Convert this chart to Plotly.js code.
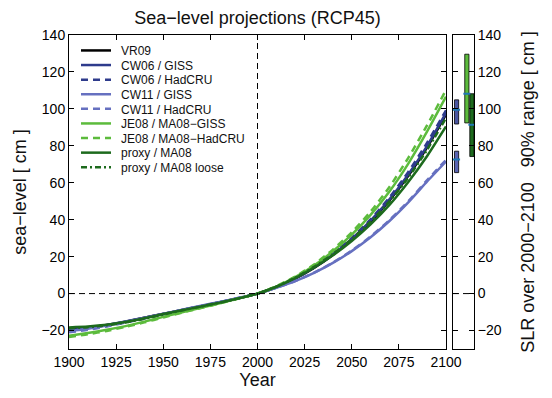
<!DOCTYPE html>
<html>
<head>
<meta charset="utf-8">
<script src="https://cdn.plot.ly/plotly-3.0.1.min.js"></script>
<style>html,body{margin:0;padding:0;background:#fff;}#chart{width:552px;height:398px;}</style>
</head>
<body>
<div id="chart"></div>
<script>
// ---------- data ----------
const years = [1900,1910,1920,1930,1940,1950,1960,1970,1980,1990,2000,2010,2020,2030,2040,2050,2060,2070,2080,2090,2100];

const vr09       = [-19.5,-18.5,-17.0,-15.2,-13.1,-11.0,-8.9,-6.8,-4.7,-2.5,0,3.4,8.1,13.9,20.9,29.2,39.0,50.4,63.8,79.2,97.0];
const cw06Giss   = [-19.8,-18.6,-17.0,-15.1,-13.0,-10.9,-8.9,-6.8,-4.7,-2.5,0,3.5,8.2,14.1,21.2,29.6,39.5,51.0,64.5,80.0,97.8];
const cw06Had    = [-20.5,-19.2,-17.5,-15.5,-13.3,-11.2,-9.0,-6.9,-4.8,-2.5,0,3.5,8.3,14.3,21.5,30.1,40.2,52.0,65.9,81.7,99.2];
const cw11Giss   = [-20.3,-19.0,-17.3,-15.3,-13.2,-11.0,-8.8,-6.6,-4.5,-2.3,0,3.1,6.7,11.2,16.6,23.0,30.5,39.3,49.4,60.7,71.5];
const cw11Had    = [-21.0,-19.6,-17.8,-15.7,-13.5,-11.2,-9.0,-6.8,-4.6,-2.4,0,3.1,6.8,11.3,16.8,23.3,30.9,39.8,50.0,61.4,72.4];
const je08Giss   = [-22.8,-21.3,-19.6,-17.6,-15.2,-12.6,-10.1,-7.7,-5.2,-2.6,0,3.8,8.9,15.2,22.9,31.9,42.6,55.3,70.4,87.8,106.6];
const je08Had    = [-23.5,-22.0,-20.2,-18.0,-15.6,-12.9,-10.3,-7.8,-5.3,-2.7,0,4.0,9.2,15.8,23.8,33.2,44.4,57.7,73.5,91.2,110.2];
const proxyMA08  = [-18.3,-17.8,-16.9,-15.4,-13.4,-11.1,-9.0,-7.0,-4.9,-2.6,0,3.7,8.4,14.1,20.7,28.5,37.5,48.0,60.4,74.5,90.5];
const proxyLoose = [-18.8,-18.2,-17.2,-15.6,-13.6,-11.3,-9.1,-7.0,-4.9,-2.6,0,3.8,8.6,14.5,21.4,29.5,38.9,49.9,62.8,77.9,95.0];

const seriesNames = ['VR09','CW06 / GISS','CW06 / HadCRU','CW11 / GISS','CW11 / HadCRU',
                     'JE08 / MA08\u2212GISS','JE08 / MA08\u2212HadCRU','proxy / MA08','proxy / MA08 loose'];

// 90% ranges of SLR over 2000-2100 (right panel)
const rangeNames = ['CW06','CW11','JE08','proxy / MA08'];
const rangeLow   = [91.8, 65.5, 92.4, 74.2];
const rangeHigh  = [104.9, 77.1, 129.6, 108.2];
const rangeMed   = [99.5, 72.6, 108.2, 91.4];

const yTicks = [-20,0,20,40,60,80,100,120,140];
const xTicks = [1900,1925,1950,1975,2000,2025,2050,2075,2100];

// ---------- styles ----------
const seriesValues = [vr09,cw06Giss,cw06Had,cw11Giss,cw11Had,je08Giss,je08Had,proxyMA08,proxyLoose];
const seriesColors = ['#000000','#2e3b8c','#2e3b8c','#6670c0','#6670c0','#5cbb3c','#5cbb3c','#1d6a1d','#1d6a1d'];
const seriesDash   = ['solid','solid','7px,5px','solid','7px,5px','solid','7px,5px','solid','6px,3px,2px,3px'];
const rangeColors  = ['#4a55a0','#5a64b2','#5cbb3c','#1d6a1d'];
const rangeSlots   = [0.17,0.17,0.66,0.9];

const FONT = 'Liberation Sans, Arial, Helvetica, sans-serif';

const traces = seriesValues.map((v,i)=>({
  type:'scatter', mode:'lines', x:years, y:v, name:seriesNames[i],
  line:{color:seriesColors[i], width:2.5, dash:seriesDash[i], shape:'spline', smoothing:0.6},
  xaxis:'x', yaxis:'y', hoverinfo:'skip'
}));

traces.push({
  type:'bar', x:rangeSlots, base:rangeLow, y:rangeHigh.map((h,i)=>h-rangeLow[i]),
  width:0.2, marker:{color:rangeColors, line:{color:'#000', width:0.8}},
  xaxis:'x2', yaxis:'y2', showlegend:false, hoverinfo:'skip', text:rangeNames, textposition:'none'
});
traces.push({
  type:'scatter', mode:'markers', x:rangeSlots, y:rangeMed,
  marker:{symbol:'line-ew-open', size:5, line:{color:'#000', width:2}},
  xaxis:'x2', yaxis:'y2', showlegend:false, hoverinfo:'skip'
});

const axisCommon = {
  showline:true, linecolor:'#000', linewidth:1, mirror:'ticks', ticks:'inside', ticklen:5,
  tickcolor:'#000', showgrid:false, zeroline:false, tickangle:0, automargin:false,
  tickfont:{family:FONT, size:14, color:'#000'}
};

const layout = {
  width:552, height:398,
  margin:{l:69, r:78, t:35, b:49},
  paper_bgcolor:'#fff', plot_bgcolor:'#fff',
  font:{family:FONT, color:'#000'},
  showlegend:true,
  title:{text:'Sea\u2212level projections (RCP45)', font:{family:FONT, size:18, color:'#111'},
         xref:'container', x:257.5/552, xanchor:'center', yref:'container', y:1-18/398, yanchor:'middle'},
  xaxis:Object.assign({}, axisCommon, {
    domain:[0, 377/405], range:[1900,2100], tickvals:xTicks, ticktext:xTicks.map(String),
    title:{text:'Year', font:{family:FONT, size:18, color:'#111'}, standoff:4}
  }),
  yaxis:Object.assign({}, axisCommon, {
    range:[-30,140], tickvals:yTicks, ticktext:yTicks.map(v=>v<0?'\u2212'+Math.abs(v):String(v)),
    title:{text:'sea\u2212level [ cm ]', font:{family:FONT, size:18, color:'#111'}, standoff:10}
  }),
  xaxis2:Object.assign({}, axisCommon, {
    domain:[384/405, 1], range:[0,1], anchor:'y2', showticklabels:false, ticks:'', mirror:true
  }),
  yaxis2:Object.assign({}, axisCommon, {
    anchor:'x2', side:'right', range:[-30,140], tickvals:yTicks,
    ticktext:yTicks.map(v=>v<0?'\u2212'+Math.abs(v):String(v)),
    title:{text:'SLR over 2000\u22122100\u00a0\u00a0 90% range [ cm ]', font:{family:FONT, size:18, color:'#111'}, standoff:20}
  }),
  shapes:[
    {type:'line', xref:'x domain', yref:'y', x0:0, x1:1, y0:0, y1:0, line:{color:'#000', width:1, dash:'6px,4px'}},
    {type:'line', xref:'x2 domain', yref:'y2', x0:0, x1:1, y0:0, y1:0, line:{color:'#000', width:1, dash:'6px,4px'}},
    {type:'line', xref:'x', yref:'y domain', x0:2000, x1:2000, y0:0, y1:1, line:{color:'#000', width:1, dash:'6px,4px'}}
  ],
  legend:{x:7/405, xanchor:'left', y:0.997, yanchor:'top',
          bgcolor:'rgba(0,0,0,0)', borderwidth:0, font:{family:FONT, size:12, color:'#111'},
          itemclick:false, itemdoubleclick:false, tracegroupgap:0}
};

Plotly.newPlot('chart', traces, layout, {displayModeBar:false, staticPlot:true}).then(gd=>{
  // tighten legend row spacing and text offset to match the reference
  const items = gd.querySelectorAll('.legend .traces');
  if (!items.length) return;
  const m = /translate\(\s*([-\d.]+)[ ,]+([-\d.]+)/.exec(items[0].getAttribute('transform')||'');
  if (!m) return;
  const x0 = parseFloat(m[1]), y0 = parseFloat(m[2]);
  items.forEach((el,i)=>{
    el.setAttribute('transform','translate('+x0+','+(y0+i*14.6)+')');
    const t = el.querySelector('.legendtext');
    if (t) t.setAttribute('x', (parseFloat(t.getAttribute('x'))||40) + 5);
  });
});
</script>
</body>
</html>
